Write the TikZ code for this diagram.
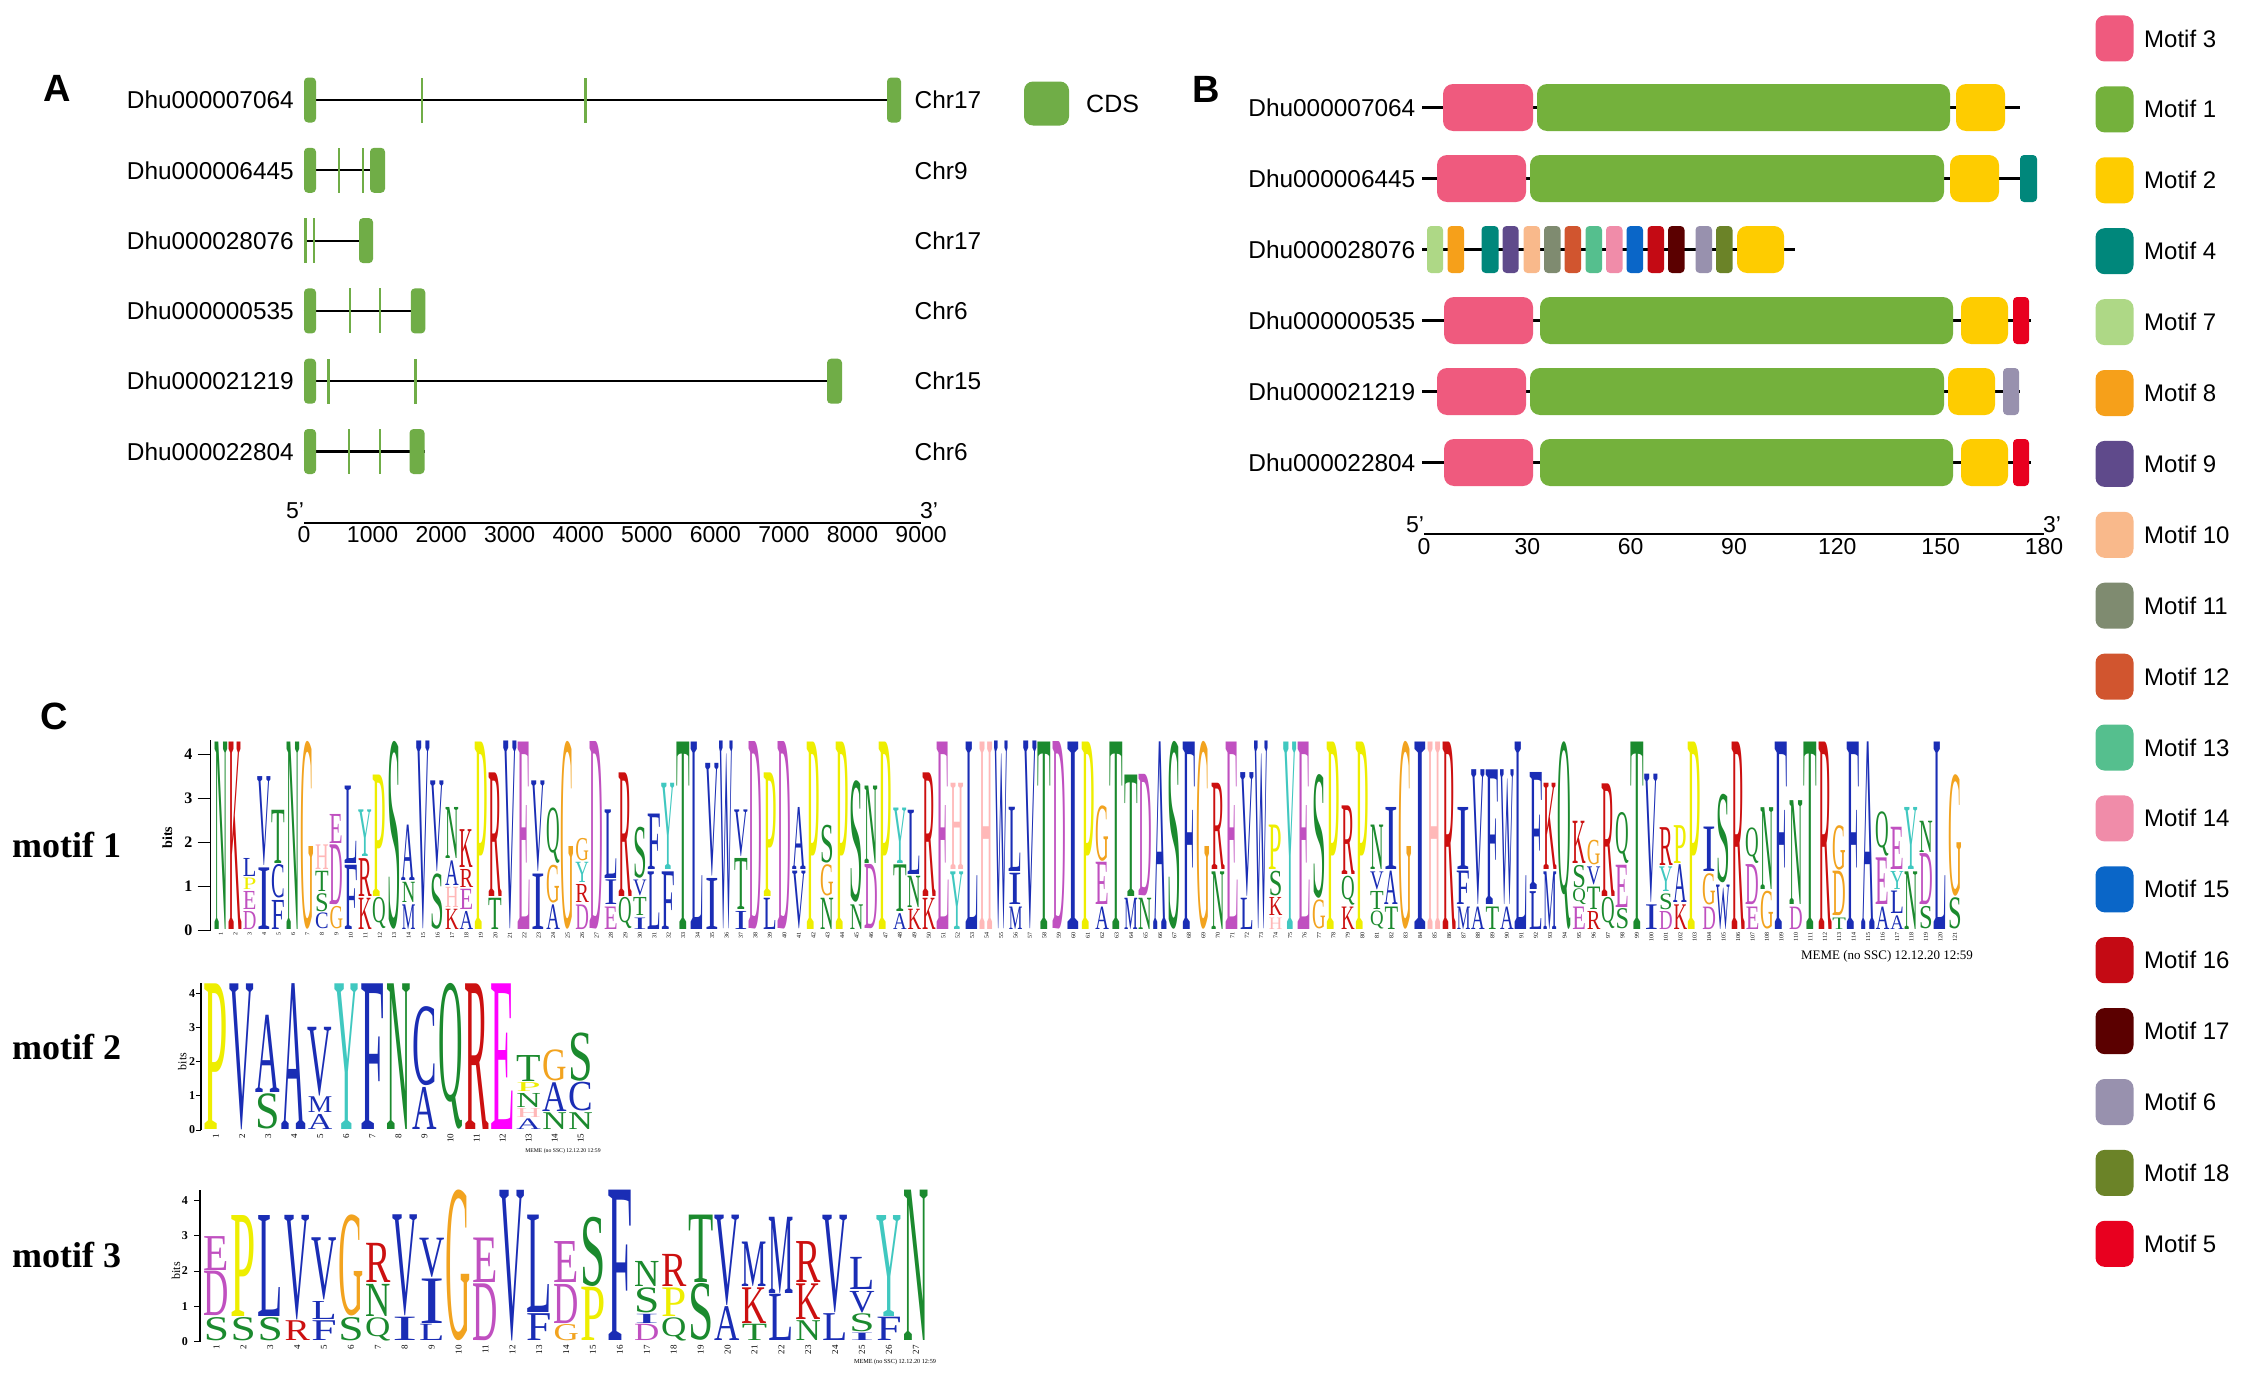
\documentclass[tikz,border=0pt]{standalone}
\usepackage{fontspec}
\setmainfont{Liberation Sans}
\newfontfamily\logofont{Liberation Serif}
\usepackage{graphicx}
\usetikzlibrary{backgrounds}
\definecolor{cdsgreen}{HTML}{70AD47}
\definecolor{m3}{HTML}{EF5A7E}
\definecolor{m1}{HTML}{74B13C}
\definecolor{m2}{HTML}{FECC00}
\definecolor{m4}{HTML}{00877B}
\definecolor{m7}{HTML}{AED886}
\definecolor{m8}{HTML}{F6A01A}
\definecolor{m9}{HTML}{5F4A8B}
\definecolor{m10}{HTML}{F9B98B}
\definecolor{m11}{HTML}{7F8B70}
\definecolor{m12}{HTML}{D1552F}
\definecolor{m13}{HTML}{55BF8E}
\definecolor{m14}{HTML}{F08CA9}
\definecolor{m15}{HTML}{0A66C8}
\definecolor{m16}{HTML}{C40A14}
\definecolor{m17}{HTML}{5B0000}
\definecolor{m6}{HTML}{9891AE}
\definecolor{m18}{HTML}{6B8328}
\definecolor{m5}{HTML}{E8001F}
\definecolor{cB}{HTML}{1A2DB5}
\definecolor{cG}{HTML}{1B8A2E}
\definecolor{cM}{HTML}{C050C0}
\definecolor{cR}{HTML}{CC1010}
\definecolor{cO}{HTML}{F2A31F}
\definecolor{cY}{HTML}{EEEE00}
\definecolor{cT}{HTML}{40C8C0}
\definecolor{cH}{HTML}{FFB8B8}
\definecolor{cE}{HTML}{FF00FF}
\newcommand\fsz[1]{\fontsize{#1}{#1}\selectfont}
\newlength\bitu
\newlength\colw
\newcommand\lstack[3]{%
  \gdef\stackbase{0}%
  \foreach \hh/\cc/\ll [count=\ii] in {#3}{%
    \pgfmathsetmacro\hq{\hh-0.04}%
    \node[logol] (#1c#2n\ii) at (#2-0.97,\stackbase+0.02) {\resizebox*{\colw}{\hq\bitu}{\logofont\textcolor{\cc}{\ll}}};%
    \pgfmathsetmacro\nb{\stackbase+\hh}\xdef\stackbase{\nb}%
  }}
\newcommand\exon[5]{\node[exonst, minimum width=#3pt, rounded corners=#5pt] (#1) at (#2,#4) {};}
\newcommand\motbox[6]{%
  \pgfmathsetmacro\bw{#4-#3}\pgfmathsetmacro\bx{(#3+#4)/2}%
  \node[mboxst, fill=#2, minimum width=\bw pt, rounded corners=#6pt] (#1) at (\bx,#5) {};}
\tikzset{
  logol/.style={inner sep=0, outer sep=0, anchor=south west},
  exonst/.style={fill=cdsgreen, draw=none, inner sep=0, minimum height=45pt},
  mboxst/.style={draw=none, inner sep=0, minimum height=47pt},
  glab/.style={font=\fsz{24.4}, inner sep=0},
  scl/.style={font=\fsz{23}, inner sep=0},
  gline/.style={line width=2.2pt, black},
  panel/.style={font=\bfseries\fsz{38}, inner sep=0},
  legbox/.style={draw=none, inner sep=0, minimum width=38pt, minimum height=46pt, rounded corners=9pt},
  legtext/.style={font=\fsz{24}, inner sep=0, anchor=west},
  mlab/.style={font=\logofont\bfseries\fsz{36}, inner sep=0, anchor=west},
  pnum/.style={rotate=90, anchor=east, inner sep=0},
  tlab/.style={inner sep=0, font=\logofont\bfseries\fsz{16}},
  tlabs/.style={inner sep=0, font=\logofont\bfseries\fsz{12}},
}
\begin{document}
\begin{tikzpicture}[x=1pt,y=-1pt]
\begin{pgfonlayer}{background}
\fill[white] (0,0) rectangle (2253,1381);
\end{pgfonlayer}
\useasboundingbox (0,0) rectangle (2253,1381);

% ---------------- Panel A ----------------
\node[panel] (pA) at (57,88) {A};
\foreach \nm/\ch/\yy [count=\i] in {Dhu000007064/Chr17/100, Dhu000006445/Chr9/170.3, Dhu000028076/Chr17/240.6, Dhu000000535/Chr6/310.9, Dhu000021219/Chr15/381.2, Dhu000022804/Chr6/451.5}{
  \node[glab, anchor=east] (ga\i) at (294,\yy) {\nm};
  \node[glab, anchor=west] (gc\i) at (914.5,\yy) {\ch};
}
\exon{a1e1}{310}{12}{100}{4}
\exon{a1e2}{422}{2.5}{100}{0}
\exon{a1e3}{585.5}{2.5}{100}{0}
\exon{a1e4}{894}{14}{100}{4}
\exon{a2e1}{310}{12}{170.3}{4}
\exon{a2e2}{339}{2.5}{170.3}{0}
\exon{a2e3}{363}{2.5}{170.3}{0}
\exon{a2e4}{377.5}{15}{170.3}{4}
\exon{a3e1}{305.5}{2.5}{240.6}{0}
\exon{a3e2}{314}{2.5}{240.6}{0}
\exon{a3e3}{366}{14}{240.6}{4}
\exon{a4e1}{310}{12}{310.9}{4}
\exon{a4e2}{350}{2.5}{310.9}{0}
\exon{a4e3}{380}{2.5}{310.9}{0}
\exon{a4e4}{418}{14.5}{310.9}{4}
\exon{a5e1}{310}{12}{381.2}{4}
\exon{a5e2}{328}{3}{381.2}{0}
\exon{a5e3}{415.5}{2.5}{381.2}{0}
\exon{a5e4}{834.5}{15}{381.2}{4}
\exon{a6e1}{310}{12}{451.5}{4}
\exon{a6e2}{349}{2.5}{451.5}{0}
\exon{a6e3}{380}{2.5}{451.5}{0}
\exon{a6e4}{417}{15}{451.5}{4}
\begin{pgfonlayer}{background}
\draw[gline] (a1e1.west) -- (a1e4.east);
\draw[gline] (a2e1.west) -- (a2e4.east);
\draw[gline] (a3e1.west) -- (a3e3.east);
\draw[gline] (a4e1.west) -- (a4e4.east);
\draw[gline] (a5e1.west) -- (a5e4.east);
\draw[gline] (a6e1.west) -- (a6e4.east);
\end{pgfonlayer}
% CDS legend
\node[legbox, fill=cdsgreen, minimum width=45pt, minimum height=44pt] (cdsbox) at (1046.5,103.5) {};
\node[legtext, font=\fsz{25}] (cdstext) at (1086,103.5) {CDS};
% scale A
\coordinate (saL) at (304,523);
\coordinate (saR) at (921,523);
\draw[line width=2pt] (saL) -- (saR);
\node[scl] (sa5) at (295,511) {5'};
\node[scl] (sa3) at (929,511) {3'};
\foreach \v [count=\i from 0] in {0,1000,...,9000}{
  \pgfmathsetmacro\xx{304+68.56*\i}
  \node[scl] (sat\i) at (\xx,535) {\v};
}

% ---------------- Panel B ----------------
\node[panel] (pB) at (1206,89) {B};
\foreach \nm/\yy/\ee [count=\i] in {Dhu000007064/107.5/2020, Dhu000006445/178.5/2037, Dhu000028076/249.5/1795, Dhu000000535/320.5/2031, Dhu000021219/391.5/2020, Dhu000022804/462.5/2031}{
  \node[glab, anchor=east] (gb\i) at (1415.5,\yy) {\nm};
  \coordinate (bs\i) at (1422,\yy);
  \coordinate (be\i) at (\ee,\yy);
}
\begin{pgfonlayer}{background}
\foreach \i in {1,...,6}{\draw[gline, line width=2.5pt] (bs\i) -- (be\i);}
\end{pgfonlayer}
% row 1
\motbox{b1m3}{m3}{1443}{1533}{107.5}{10}
\motbox{b1m1}{m1}{1537}{1950}{107.5}{10}
\motbox{b1m2}{m2}{1956}{2005}{107.5}{10}
% row 2
\motbox{b2m3}{m3}{1437}{1526}{178.5}{10}
\motbox{b2m1}{m1}{1530}{1944}{178.5}{10}
\motbox{b2m2}{m2}{1950}{1999}{178.5}{10}
\motbox{b2m4}{m4}{2020}{2037}{178.5}{4}
% row 3
\motbox{b3m7}{m7}{1427}{1443}{249.5}{4}
\motbox{b3m8}{m8}{1447.5}{1464}{249.5}{4}
\motbox{b3m4}{m4}{1481.5}{1498.5}{249.5}{4}
\motbox{b3m9}{m9}{1502.5}{1518.5}{249.5}{4}
\motbox{b3m10}{m10}{1523.5}{1540}{249.5}{4}
\motbox{b3m11}{m11}{1544}{1560.5}{249.5}{4}
\motbox{b3m12}{m12}{1564.5}{1581}{249.5}{4}
\motbox{b3m13}{m13}{1585.5}{1602}{249.5}{4}
\motbox{b3m14}{m14}{1606}{1622.5}{249.5}{4}
\motbox{b3m15}{m15}{1626.5}{1643}{249.5}{4}
\motbox{b3m16}{m16}{1647.5}{1664}{249.5}{4}
\motbox{b3m17}{m17}{1668}{1684.5}{249.5}{4}
\motbox{b3m6}{m6}{1695.5}{1712}{249.5}{4}
\motbox{b3m18}{m18}{1716}{1732.5}{249.5}{4}
\motbox{b3m2}{m2}{1737}{1784}{249.5}{10}
% row 4
\motbox{b4m3}{m3}{1444}{1533}{320.5}{10}
\motbox{b4m1}{m1}{1540}{1953}{320.5}{10}
\motbox{b4m2}{m2}{1961}{2008}{320.5}{10}
\motbox{b4m5}{m5}{2013}{2029}{320.5}{4}
% row 5
\motbox{b5m3}{m3}{1437}{1526}{391.5}{10}
\motbox{b5m1}{m1}{1530}{1944}{391.5}{10}
\motbox{b5m2}{m2}{1948}{1995}{391.5}{10}
\motbox{b5m6}{m6}{2003}{2019}{391.5}{4}
% row 6
\motbox{b6m3}{m3}{1444}{1533}{462.5}{10}
\motbox{b6m1}{m1}{1540}{1953}{462.5}{10}
\motbox{b6m2}{m2}{1961}{2008}{462.5}{10}
\motbox{b6m5}{m5}{2013}{2029}{462.5}{4}
% scale B
\coordinate (sbL) at (1424,534);
\coordinate (sbR) at (2044,534);
\draw[line width=2pt] (sbL) -- (sbR);
\node[scl] (sb5) at (1415,525) {5'};
\node[scl] (sb3) at (2052,525) {3'};
\foreach \v [count=\i from 0] in {0,30,...,180}{
  \pgfmathsetmacro\xx{1424+103.33*\i}
  \node[scl] (sbt\i) at (\xx,547) {\v};
}
% legend
\foreach \m [count=\i from 0] in {3,1,2,4,7,8,9,10,11,12,13,14,15,16,17,6,18,5}{
  \pgfmathsetmacro\yy{38.5+70.9*\i}
  \node[legbox, fill=m\m] (lg\m) at (2114.5,\yy) {};
  \node[legtext] (lt\m) at (2144,\yy) {Motif \m};
}

% ---------------- Panel C ----------------
\node[panel] (pC) at (54,716) {C};
\node[mlab] (ml1) at (12,845) {motif 1};
\node[mlab] (ml2) at (12,1047) {motif 2};
\node[mlab] (ml3) at (12,1255) {motif 3};
\node[inner sep=0, font=\logofont\fsz{13}] (meme1) at (1887,956) {MEME (no SSC) 12.12.20 12:59};
\node[inner sep=0, font=\logofont\fsz{5.7}] (meme2) at (563,1151) {MEME (no SSC) 12.12.20 12:59};
\node[inner sep=0, font=\logofont\fsz{6.2}] (meme3) at (895,1362) {MEME (no SSC) 12.12.20 12:59};

% motif 1 logo
\begin{scope}[shift={(213.6,930)}, x=14.45pt, y=44pt]
\setlength\bitu{44pt}\setlength\colw{13.6pt}
\draw[line width=1.8pt] (-0.21,0) -- (-0.21,4.32);
\foreach \t in {0,...,4}{
  \draw[line width=1pt] (-1.1,\t) -- (-0.21,\t);
  \node[tlab] (a1t\t) at (-1.75,\t) {\t};
}
\node[rotate=90, inner sep=0, font=\logofont\bfseries\fsz{14}] (a1bits) at (-3.2,2.1) {bits};
\foreach \n in {1,...,121}{\node[pnum, font=\logofont\fsz{6}] (a1num\n) at (\n-0.5,-0.06) {\n};}
\lstack{x}{1}{4.3/cG/N}
\lstack{x}{2}{4.3/cR/K}
\lstack{x}{3}{0.45/cM/D,0.45/cM/E,0.3/cY/P,0.45/cB/L}
\lstack{x}{4}{1.44/cB/I,2.06/cB/V}
\lstack{x}{5}{0.7/cB/F,0.8/cB/C,1.25/cG/T}
\lstack{x}{6}{4.3/cG/N}
\lstack{x}{7}{4.3/cO/G}
\lstack{x}{8}{0.4/cB/C,0.45/cG/S,0.5/cG/T,0.6/cH/H}
\lstack{x}{9}{0.55/cO/G,1.4/cM/D,0.7/cM/E}
\lstack{x}{10}{1.5/cB/F,1.8/cB/L}
\lstack{x}{11}{0.75/cR/K,0.9/cR/R,1.1/cT/Y}
\lstack{x}{12}{0.75/cG/Q,2.8/cY/P}
\lstack{x}{13}{4.3/cG/S}
\lstack{x}{14}{0.6/cB/M,0.5/cG/N,1.3/cB/A}
\lstack{x}{15}{4.3/cB/V}
\lstack{x}{16}{1.3/cG/S,2.1/cB/V}
\lstack{x}{17}{0.5/cR/K,0.5/cH/H,0.6/cB/A,1.2/cG/N}
\lstack{x}{18}{0.45/cB/A,0.5/cM/E,0.45/cR/R,0.9/cR/K}
\lstack{x}{19}{4.3/cY/P}
\lstack{x}{20}{0.75/cG/T,2.85/cR/R}
\lstack{x}{21}{4.3/cB/V}
\lstack{x}{22}{4.3/cM/E}
\lstack{x}{23}{1.3/cB/I,2.1/cB/V}
\lstack{x}{24}{0.6/cB/A,0.9/cO/G,1.3/cG/Q}
\lstack{x}{25}{4.3/cO/G}
\lstack{x}{26}{0.6/cM/D,0.45/cR/R,0.5/cT/Y,0.55/cO/G}
\lstack{x}{27}{4.3/cM/D}
\lstack{x}{28}{0.55/cM/E,0.6/cB/I,1.6/cB/L}
\lstack{x}{29}{0.75/cG/Q,2.85/cR/R}
\lstack{x}{30}{0.3/cB/I,0.45/cG/T,0.4/cB/V,1.2/cG/S}
\lstack{x}{31}{1.35/cB/L,1.3/cB/F}
\lstack{x}{32}{1.35/cB/F,2.0/cT/Y}
\lstack{x}{33}{4.3/cG/T}
\lstack{x}{34}{4.3/cB/L}
\lstack{x}{35}{1.2/cB/I,2.6/cB/V}
\lstack{x}{36}{4.3/cB/W}
\lstack{x}{37}{0.45/cB/I,1.2/cG/T,1.1/cB/V}
\lstack{x}{38}{4.3/cM/D}
\lstack{x}{39}{0.75/cB/L,2.85/cY/P}
\lstack{x}{40}{4.3/cM/D}
\lstack{x}{41}{1.35/cB/V,1.45/cB/A}
\lstack{x}{42}{4.3/cY/P}
\lstack{x}{43}{0.75/cG/N,0.75/cO/G,0.9/cG/S}
\lstack{x}{44}{4.3/cY/P}
\lstack{x}{45}{0.6/cG/N,2.8/cG/S}
\lstack{x}{46}{1.5/cM/D,1.8/cG/N}
\lstack{x}{47}{4.3/cY/P}
\lstack{x}{48}{0.4/cB/A,1.1/cG/T,1.3/cT/Y}
\lstack{x}{49}{0.5/cR/K,0.75/cG/N,1.5/cB/L}
\lstack{x}{50}{0.75/cR/K,2.85/cR/R}
\lstack{x}{51}{4.3/cM/E}
\lstack{x}{52}{1.35/cT/Y,2.0/cH/H}
\lstack{x}{53}{4.3/cB/L}
\lstack{x}{54}{4.3/cH/H}
\lstack{x}{55}{4.3/cB/W}
\lstack{x}{56}{0.55/cB/M,0.75/cB/I,1.5/cB/L}
\lstack{x}{57}{4.3/cB/V}
\lstack{x}{58}{4.3/cG/T}
\lstack{x}{59}{4.3/cM/D}
\lstack{x}{60}{4.3/cB/I}
\lstack{x}{61}{4.3/cY/P}
\lstack{x}{62}{0.55/cB/A,1.0/cM/E,1.3/cO/G}
\lstack{x}{63}{4.3/cG/T}
\lstack{x}{64}{0.75/cB/M,2.8/cG/T}
\lstack{x}{65}{0.75/cG/N,2.8/cM/D}
\lstack{x}{66}{4.3/cB/A}
\lstack{x}{67}{4.3/cG/S}
\lstack{x}{68}{4.3/cB/F}
\lstack{x}{69}{4.3/cO/G}
\lstack{x}{70}{1.35/cG/N,2.0/cR/R}
\lstack{x}{71}{4.3/cM/E}
\lstack{x}{72}{0.75/cB/L,2.85/cB/V}
\lstack{x}{73}{4.3/cB/W}
\lstack{x}{74}{0.3/cH/H,0.45/cR/K,0.6/cG/S,1.05/cY/P}
\lstack{x}{75}{4.3/cT/Y}
\lstack{x}{76}{4.3/cM/E}
\lstack{x}{77}{0.7/cO/G,2.85/cG/S}
\lstack{x}{78}{4.3/cY/P}
\lstack{x}{79}{0.55/cR/K,0.7/cG/Q,1.6/cR/R}
\lstack{x}{80}{4.3/cY/P}
\lstack{x}{81}{0.45/cG/Q,0.45/cG/T,0.45/cB/V,1.05/cG/N}
\lstack{x}{82}{0.55/cG/T,0.8/cB/A,1.45/cB/I}
\lstack{x}{83}{4.3/cO/G}
\lstack{x}{84}{4.3/cB/I}
\lstack{x}{85}{4.3/cH/H}
\lstack{x}{86}{4.3/cR/R}
\lstack{x}{87}{0.55/cB/M,0.8/cB/F,1.45/cB/I}
\lstack{x}{88}{0.55/cB/A,3.1/cB/V}
\lstack{x}{89}{0.55/cG/T,3.1/cB/F}
\lstack{x}{90}{0.55/cB/A,3.1/cB/W}
\lstack{x}{91}{4.3/cB/L}
\lstack{x}{92}{0.9/cB/L,2.7/cB/F}
\lstack{x}{93}{1.35/cB/M,2.0/cR/K}
\lstack{x}{94}{4.3/cG/Q}
\lstack{x}{95}{0.55/cM/E,0.4/cG/Q,0.55/cG/S,1.0/cR/K}
\lstack{x}{96}{0.45/cR/R,0.55/cG/T,0.45/cB/V,0.6/cO/G}
\lstack{x}{97}{0.75/cG/Q,2.6/cR/R}
\lstack{x}{98}{0.5/cG/S,1.0/cM/E,1.2/cG/Q}
\lstack{x}{99}{4.3/cG/T}
\lstack{x}{100}{0.6/cB/I,2.95/cB/V}
\lstack{x}{101}{0.45/cM/D,0.4/cG/S,0.6/cT/Y,0.9/cR/R}
\lstack{x}{102}{0.6/cR/K,0.9/cB/A,0.9/cY/P}
\lstack{x}{103}{4.3/cY/P}
\lstack{x}{104}{0.55/cM/D,0.75/cO/G,1.05/cB/I}
\lstack{x}{105}{1.05/cB/W,2.05/cG/S}
\lstack{x}{106}{4.3/cR/R}
\lstack{x}{107}{0.55/cM/E,0.95/cM/D,0.85/cG/Q}
\lstack{x}{108}{0.9/cO/G,1.9/cG/N}
\lstack{x}{109}{4.3/cB/F}
\lstack{x}{110}{0.55/cM/D,2.4/cG/N}
\lstack{x}{111}{4.3/cG/T}
\lstack{x}{112}{4.3/cR/R}
\lstack{x}{113}{0.3/cG/T,1.05/cO/D,1.05/cO/G}
\lstack{x}{114}{4.3/cB/F}
\lstack{x}{115}{4.3/cB/A}
\lstack{x}{116}{0.55/cB/A,1.1/cM/E,1.05/cG/Q}
\lstack{x}{117}{0.35/cB/A,0.55/cB/L,0.45/cT/Y,1.0/cM/E}
\lstack{x}{118}{1.35/cG/N,1.45/cT/Y}
\lstack{x}{119}{0.55/cG/S,1.2/cM/D,0.75/cG/N}
\lstack{x}{120}{4.3/cB/L}
\lstack{x}{121}{0.75/cG/S,2.8/cO/G}
\end{scope}

% motif 2 logo
\begin{scope}[shift={(203,1130)}, x=26.05pt, y=34.2pt]
\setlength\bitu{34.2pt}\setlength\colw{24.5pt}
\draw[line width=1.3pt] (-0.08,0) -- (-0.08,4.3);
\foreach \t in {0,...,4}{
  \draw[line width=0.8pt] (-0.25,\t) -- (-0.08,\t);
  \node[tlabs] (a2t\t) at (-0.42,\t) {\t};
}
\node[rotate=90, inner sep=0, font=\logofont\fsz{12}] (a2bits) at (-0.8,2.0) {bits};
\foreach \n in {1,...,15}{\node[pnum, font=\logofont\fsz{9}] (a2num\n) at (\n-0.5,-0.1) {\n};}
\lstack{y}{1}{4.3/cY/P}
\lstack{y}{2}{4.3/cB/V}
\lstack{y}{3}{1.07/cG/S,2.3/cB/A}
\lstack{y}{4}{4.3/cB/A}
\lstack{y}{5}{0.48/cB/A,0.5/cB/M,2.05/cB/V}
\lstack{y}{6}{4.3/cT/Y}
\lstack{y}{7}{4.3/cB/F}
\lstack{y}{8}{4.3/cG/N}
\lstack{y}{9}{1.27/cB/A,2.35/cB/C}
\lstack{y}{10}{4.3/cG/Q}
\lstack{y}{11}{4.3/cR/R}
\lstack{y}{12}{4.3/cE/E}
\lstack{y}{13}{0.35/cB/A,0.3/cH/H,0.45/cG/N,0.3/cY/P,0.8/cG/T}
\lstack{y}{14}{0.53/cG/N,0.88/cB/A,0.95/cO/G}
\lstack{y}{15}{0.53/cG/N,0.88/cB/C,1.45/cG/S}
\end{scope}

% motif 3 logo
\begin{scope}[shift={(203,1341.5)}, x=26.9pt, y=35.3pt]
\setlength\bitu{35.3pt}\setlength\colw{25.3pt}
\draw[line width=1.3pt] (-0.11,0) -- (-0.11,4.3);
\foreach \t in {0,...,4}{
  \draw[line width=0.8pt] (-0.33,\t) -- (-0.11,\t);
  \node[tlabs] (a3t\t) at (-0.67,\t) {\t};
}
\node[rotate=90, inner sep=0, font=\logofont\fsz{12}] (a3bits) at (-1.0,2.0) {bits};
\foreach \n in {1,...,27}{\node[pnum, font=\logofont\fsz{9}] (a3num\n) at (\n-0.5,-0.1) {\n};}
\lstack{z}{1}{0.7/cG/S,1.3/cM/D,1.0/cM/E}
\lstack{z}{2}{0.7/cG/S,2.9/cY/P}
\lstack{z}{3}{0.7/cG/S,2.9/cB/L}
\lstack{z}{4}{0.6/cR/R,3.0/cB/V}
\lstack{z}{5}{0.6/cB/F,0.55/cB/L,1.8/cB/V}
\lstack{z}{6}{0.7/cG/S,2.9/cO/G}
\lstack{z}{7}{0.7/cG/Q,0.95/cG/N,1.15/cR/R}
\lstack{z}{8}{0.7/cB/I,2.9/cB/V}
\lstack{z}{9}{0.5/cB/L,1.3/cB/I,1.15/cB/V}
\lstack{z}{10}{4.3/cO/G}
\lstack{z}{11}{1.65/cM/D,1.3/cM/E}
\lstack{z}{12}{4.3/cB/V}
\lstack{z}{13}{0.8/cB/F,2.8/cB/L}
\lstack{z}{14}{0.5/cO/G,1.15/cM/D,1.2/cM/E}
\lstack{z}{15}{1.55/cY/P,2.0/cG/S}
\lstack{z}{16}{4.3/cB/F}
\lstack{z}{17}{0.5/cM/D,0.3/cB/I,0.75/cG/S,0.75/cG/N}
\lstack{z}{18}{0.7/cG/Q,0.85/cY/P,0.95/cR/R}
\lstack{z}{19}{1.65/cG/S,1.95/cG/T}
\lstack{z}{20}{1.0/cB/A,2.6/cB/V}
\lstack{z}{21}{0.5/cG/T,1.05/cR/K,1.3/cB/M}
\lstack{z}{22}{1.35/cB/L,2.2/cB/M}
\lstack{z}{23}{0.6/cG/N,1.05/cR/K,1.2/cR/R}
\lstack{z}{24}{0.8/cB/L,2.8/cB/V}
\lstack{z}{25}{0.25/cB/I,0.55/cG/S,0.65/cB/V,0.95/cB/L}
\lstack{z}{26}{0.7/cB/F,2.9/cT/Y}
\lstack{z}{27}{4.3/cG/N}
\end{scope}
\end{tikzpicture}
\end{document}
